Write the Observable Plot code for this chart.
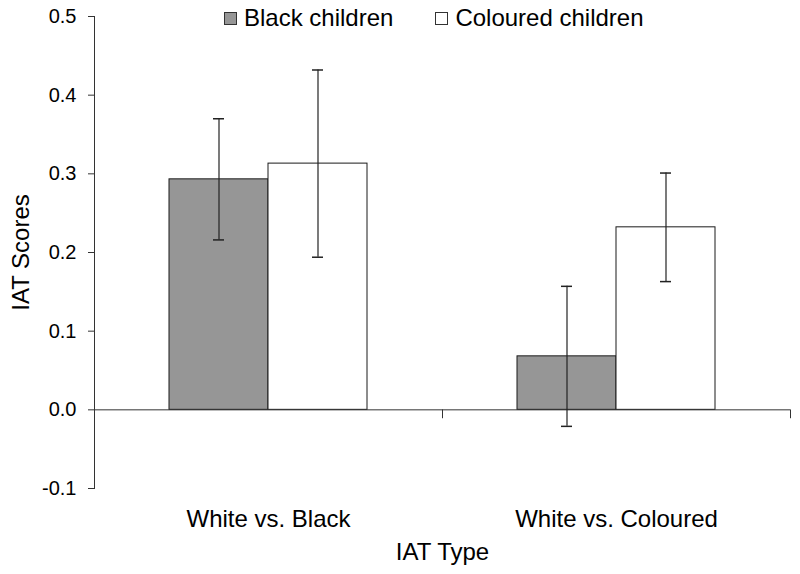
<!DOCTYPE html>
<html>
<head>
<meta charset="utf-8">
<script src="https://cdn.jsdelivr.net/npm/d3@7"></script>
<script src="https://cdn.jsdelivr.net/npm/@observablehq/plot@0.6"></script>
<style>
  body { margin: 0; background: #fff; }
  #wrap { position: relative; width: 800px; height: 574px; font-family: "Liberation Sans", Arial, sans-serif; }
  #legend { position: absolute; top: 4px; left: 224px; display: flex; align-items: center; font-size: 24px; line-height: 28px; color: #000; }
  .item { display: flex; align-items: center; }
  .sw { width: 11px; height: 11px; border: 1px solid #333; margin-right: 7px; }
</style>
</head>
<body>
<div id="wrap"><div id="legend"></div></div>
<script>
const categories = ["White vs. Black", "White vs. Coloured"];
const groups = ["Black children", "Coloured children"];
const blackMeans = [0.293, 0.068];
const blackErrors = [0.077, 0.089];
const colouredMeans = [0.313, 0.232];
const colouredErrors = [0.119, 0.069];
const yTicks = [-0.1, 0.0, 0.1, 0.2, 0.3, 0.4, 0.5];
const groupColors = ["#969696", "#ffffff"];

const data = [];
categories.forEach((c, i) => {
  data.push({category: c, group: groups[0], value: blackMeans[i], err: blackErrors[i]});
  data.push({category: c, group: groups[1], value: colouredMeans[i], err: colouredErrors[i]});
});

const tickShape = {draw(context, l) { context.moveTo(0, 0); context.lineTo(0, -l); }};
const lineColor = "#333";
const fmt = d => d3.format(".1f")(d).replace("\u2212", "-");

const chart = Plot.plot({
  width: 800,
  height: 574,
  marginTop: 16,
  marginBottom: 86,
  marginLeft: 93,
  marginRight: 10,
  style: {fontFamily: "'Liberation Sans', Arial, sans-serif", color: "#000", background: "transparent"},
  fx: {domain: categories, padding: 0},
  x: {domain: groups, paddingInner: 0, paddingOuter: 0.745, axis: null},
  y: {domain: [-0.1, 0.5]},
  color: {domain: groups, range: groupColors},
  marks: [
    Plot.barY(data, {fx: "category", x: "group", y: "value", fill: "group", stroke: "#1a1a1a", strokeWidth: 1}),
    Plot.ruleY([0], {stroke: lineColor, strokeWidth: 1}),
    Plot.vector([0], {y: d => d, frameAnchor: "right", length: 8, rotate: 180, anchor: "start", shape: tickShape, stroke: lineColor, strokeWidth: 1}),
    Plot.ruleX(data, {fx: "category", x: "group", y1: d => d.value - d.err, y2: d => d.value + d.err, stroke: "#222", strokeWidth: 1.2}),
    Plot.tickY(data, {fx: "category", x: "group", y: d => d.value - d.err, insetLeft: 44, insetRight: 44, stroke: "#222", strokeWidth: 1.5}),
    Plot.tickY(data, {fx: "category", x: "group", y: d => d.value + d.err, insetLeft: 44, insetRight: 44, stroke: "#222", strokeWidth: 1.5}),
    Plot.frame({anchor: "left", facetAnchor: "left", stroke: lineColor}),
    Plot.axisY({ticks: yTicks, tickFormat: fmt, tickSize: 6, tickPadding: 12, fontSize: 20, stroke: lineColor, label: null, facetAnchor: "left"}),
    Plot.axisY({ticks: [], tickSize: 0, label: "IAT Scores", labelAnchor: "center", labelArrow: "none", labelOffset: 83, fontSize: 24, facetAnchor: "left"}),
    Plot.axisFx({anchor: "bottom", tickSize: 0, tickPadding: 21, fontSize: 24, label: "IAT Type", labelAnchor: "center", labelArrow: "none", labelOffset: 71})
  ]
});
document.getElementById("wrap").appendChild(chart);

const legend = document.getElementById("legend");
groups.forEach((g, i) => {
  const item = document.createElement("div");
  item.className = "item";
  if (i > 0) item.style.marginLeft = "42px";
  const sw = document.createElement("div");
  sw.className = "sw";
  sw.style.background = groupColors[i];
  const t = document.createElement("span");
  t.textContent = g;
  item.appendChild(sw);
  item.appendChild(t);
  legend.appendChild(item);
});
</script>
</body>
</html>
